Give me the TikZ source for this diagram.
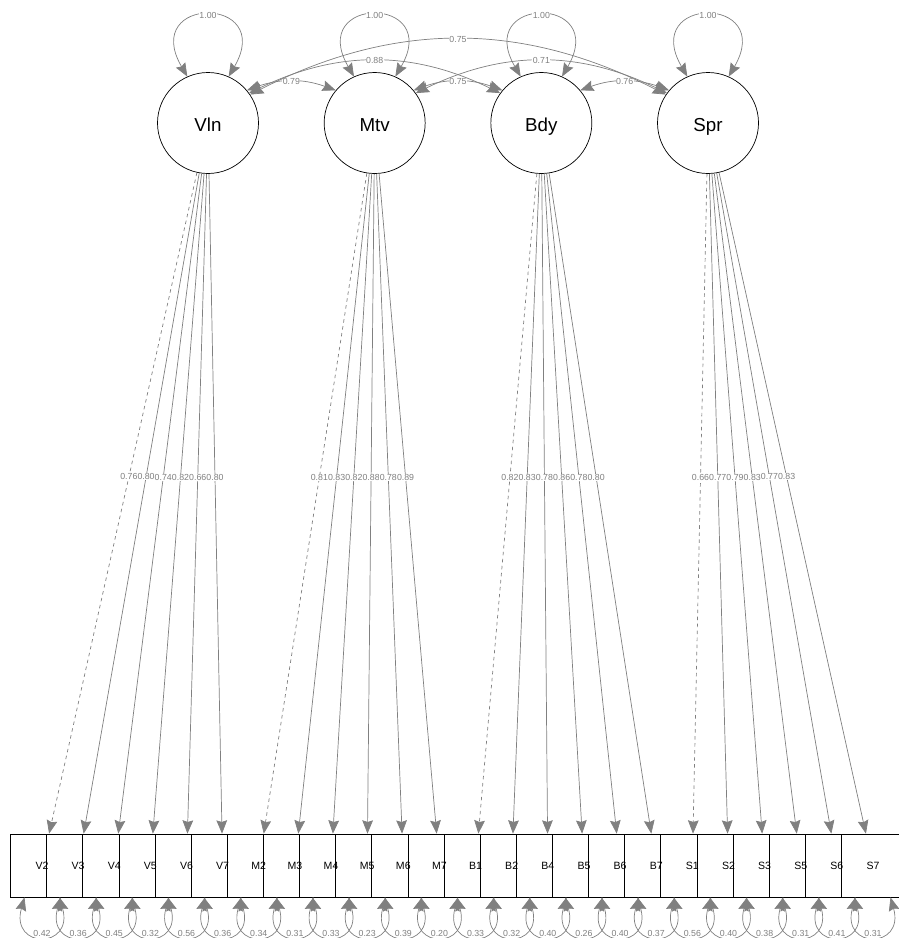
\documentclass[tikz,border=0pt]{standalone}
\usepackage{fontspec}
\setmainfont{Liberation Sans}
\usepackage{tikz}
\usetikzlibrary{arrows.meta, positioning, calc}

\tikzset{
  >={Stealth[length=4mm, width=3.2mm, inset=0.5mm]},
  latent/.style={draw, circle, minimum size=3.03cm, inner sep=0pt, fill=white,
    line width=0.6pt, text height=15pt, text depth=0pt, font=\fontsize{16}{18}\selectfont},
  ind/.style={draw, rectangle, minimum size=1.89cm, inner sep=0pt, fill=white, line width=0.6pt},
  indtxt/.style={inner sep=0pt, font=\fontsize{9}{10}\selectfont},
  elab/.style={fill=white, inner sep=0.3pt, text=gray, font=\fontsize{7.5}{8}\selectfont},
  load/.style={->, gray, line width=0.6pt},
  fixload/.style={load, dash pattern=on 3pt off 3pt},
  covarr/.style={<->, gray, line width=0.6pt}
}

\begin{document}
\begin{tikzpicture}[x=0.03cm, y=0.03cm]
    \useasboundingbox (0,0) rectangle (899,-938);
    % latent factors
    \foreach \lv [count=\i from 0] in {Vln,Mtv,Bdy,Spr} {
        \node[latent] (\lv) at (208+166.67*\i,-123) {\lv};
    }
    % indicators, each box drawn over the one before
    \foreach \ov [count=\i from 0] in {V2,V3,V4,V5,V6,V7,M2,M3,M4,M5,M6,M7,B1,B2,B4,B5,B6,B7,S1,S2,S3,S5,S6,S7} {
        \node[ind] (\ov) at (42+36.13*\i,-865.5) {};
    }
    \foreach \ov in {V2,V3,V4,V5,V6,V7,M2,M3,M4,M5,M6,M7,B1,B2,B4,B5,B6,B7,S1,S2,S3,S5,S6,S7} {
        \node[indtxt] (\ov-txt) at (\ov) {\ov};
    }
    % factor variances
    \foreach \lv in {Vln,Mtv,Bdy,Spr} {
        \draw[covarr] (\lv.114) .. controls ($(\lv)+(-68,128)$) and ($(\lv)+(68,128)$) .. (\lv.66);
        \node[elab] (\lv-var) at ($(\lv)+(0,108)$) {1.00};
    }
    % factor covariances
    \draw[covarr] (Vln.40) to[bend left=20] node[elab] (c-vm) {0.79} (Mtv.140);
    \draw[covarr] (Mtv.40) to[bend left=20] node[elab] (c-mb) {0.75} (Bdy.140);
    \draw[covarr] (Bdy.40) to[bend left=20] node[elab] (c-bs) {0.76} (Spr.140);
    \draw[covarr] (Vln.36) to[bend left=26] node[elab] (c-vb) {0.88} (Bdy.144);
    \draw[covarr] (Mtv.36) to[bend left=26] node[elab] (c-ms) {0.71} (Spr.144);
    \draw[covarr] (Vln.34) to[bend left=27] node[elab] (c-vs) {0.75} (Spr.146);
    % loadings (first one of each factor fixed)
    \foreach \lv/\ov/\w in {Vln/V2/0.76,Mtv/M2/0.81,Bdy/B1/0.82,Spr/S1/0.66} {
        \draw[fixload] (\lv) -- (\ov) node[elab, pos=0.46] (\ov-ld) {\w};
    }
    \foreach \lv/\ov/\w in {Vln/V3/0.80,Vln/V4/0.74,Vln/V5/0.82,Vln/V6/0.66,Vln/V7/0.80,
                            Mtv/M3/0.83,Mtv/M4/0.82,Mtv/M5/0.88,Mtv/M6/0.78,Mtv/M7/0.89,
                            Bdy/B2/0.83,Bdy/B4/0.78,Bdy/B5/0.86,Bdy/B6/0.78,Bdy/B7/0.80,
                            Spr/S2/0.77,Spr/S3/0.79,Spr/S5/0.83,Spr/S6/0.77,Spr/S7/0.83} {
        \draw[load] (\lv) -- (\ov) node[elab, pos=0.46] (\ov-ld) {\w};
    }
    % residual variances
    \foreach \ov/\r in {V2/0.42,V3/0.36,V4/0.45,V5/0.32,V6/0.56,V7/0.36,
                        M2/0.34,M3/0.31,M4/0.33,M5/0.23,M6/0.39,M7/0.20,
                        B1/0.33,B2/0.32,B4/0.40,B5/0.26,B6/0.40,B7/0.37,
                        S1/0.56,S2/0.40,S3/0.38,S5/0.31,S6/0.41,S7/0.31} {
        \draw[covarr] ($(\ov.south)+(-17.5,0)$) .. controls ($(\ov.south)+(-32,-52)$)
            and ($(\ov.south)+(32,-52)$) .. ($(\ov.south)+(17.5,0)$);
        \node[elab] (\ov-res) at ($(\ov.south)+(0,-36)$) {\r};
    }
\end{tikzpicture}
\end{document}
